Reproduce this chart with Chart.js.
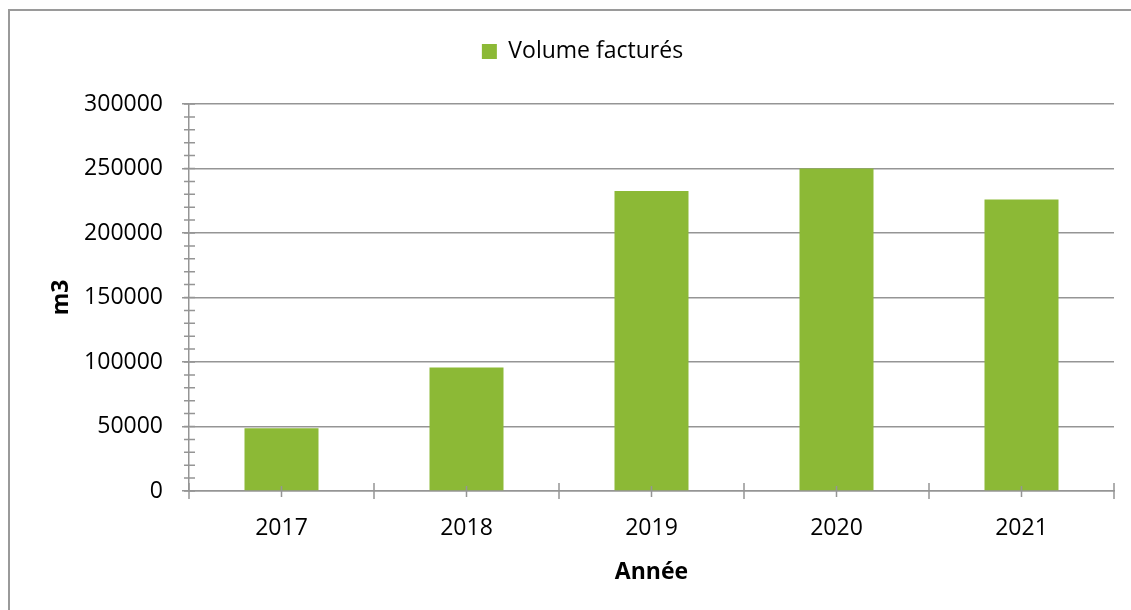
<!DOCTYPE html>
<html>
<head>
<meta charset="utf-8">
<script src="https://cdn.jsdelivr.net/npm/chart.js@4.4.1/dist/chart.umd.min.js"></script>
<style>
  body { margin: 0; background: #fff; }
  #frame { position: absolute; left: 8px; top: 9px; width: 1200px; height: 700px; border: 2px solid #9a9a9a; }
  #chart { position: absolute; left: 0; top: 0; }
</style>
</head>
<body>
<div id="frame"></div>
<canvas id="chart" width="1131" height="610"></canvas>
<script>
const years = ['2017', '2018', '2019', '2020', '2021'];
const volumes = [48600, 95800, 232600, 250000, 225900];
const seriesLabel = 'Volume facturés';
const yMax = 300000;
const yStep = 50000;
const yMinorStep = 10000;

const green = '#8cb936';
const axisGray = '#959595';
const font = { family: '"Open Sans", sans-serif', size: 23 };
const boldFont = { family: '"Open Sans", sans-serif', size: 23, weight: 'bold' };

// legend gets a fixed height, and is centred a bit right like the original
const legendPlace = {
    id: 'legendPlace',
    afterInit(chart) {
        const fit = chart.legend.fit;
        chart.legend.fit = function () {
            fit.call(this);
            this.height = 104;
        };
    },
    afterLayout(chart) {
        chart.legend.left = 0;
        chart.legend.right = 1165;
    }
};

// minor ticks on y, crossing ticks on x
const axisTicks = {
    id: 'axisTicks',
    afterDraw(chart) {
        const ctx = chart.ctx;
        const area = chart.chartArea;
        const x = chart.scales.x;
        const y = chart.scales.y;
        ctx.save();
        ctx.strokeStyle = axisGray;
        ctx.lineWidth = 1.5;
        ctx.beginPath();
        for (let v = 0; v <= yMax; v += yMinorStep) {
            const py = y.getPixelForValue(v);
            ctx.moveTo(area.left - 5, py);
            ctx.lineTo(area.left + 6, py);
        }
        for (let i = 0; i <= years.length; i++) {
            const px = x.getPixelForValue(i - 0.5);
            ctx.moveTo(px, area.bottom - 8);
            ctx.lineTo(px, area.bottom + 8);
        }
        for (let i = 0; i < years.length; i++) {
            const px = x.getPixelForValue(i);
            ctx.moveTo(px, area.bottom - 5);
            ctx.lineTo(px, area.bottom + 6);
        }
        ctx.stroke();
        ctx.restore();
    }
};

new Chart(document.getElementById('chart'), {
    type: 'bar',
    data: {
        labels: years,
        datasets: [{
            label: seriesLabel,
            data: volumes,
            backgroundColor: green,
            borderWidth: 0,
            categoryPercentage: 1,
            barPercentage: 0.4
        }]
    },
    options: {
        responsive: false,
        animation: false,
        layout: { padding: { top: 0, right: 17, bottom: 0, left: 0 } },
        plugins: {
            legend: {
                position: 'top',
                labels: {
                    font: font,
                    color: '#000',
                    boxWidth: 15,
                    boxHeight: 15,
                    padding: 40
                }
            },
            tooltip: { enabled: false }
        },
        scales: {
            x: {
                grid: { display: false, drawTicks: false },
                border: { display: true, color: axisGray, width: 1.5 },
                ticks: { font: font, color: '#000', padding: 24 },
                title: { display: true, text: 'Année', font: boldFont, color: '#000', padding: { top: 0, bottom: 24 } },
                afterFit(scale) { scale.height = 119; }
            },
            y: {
                min: 0,
                max: yMax,
                grid: { color: axisGray, lineWidth: 1.5, drawTicks: true, tickLength: 7 },
                border: { display: true, color: axisGray, width: 1.5 },
                ticks: {
                    stepSize: yStep,
                    font: font,
                    color: '#000',
                    padding: 19,
                    callback: v => String(v)
                },
                title: { display: true, text: 'm3', font: boldFont, color: '#000', padding: { top: 48, bottom: 0 } },
                afterFit(scale) { scale.width = 189; }
            }
        }
    },
    plugins: [legendPlace, axisTicks]
});
</script>
</body>
</html>
